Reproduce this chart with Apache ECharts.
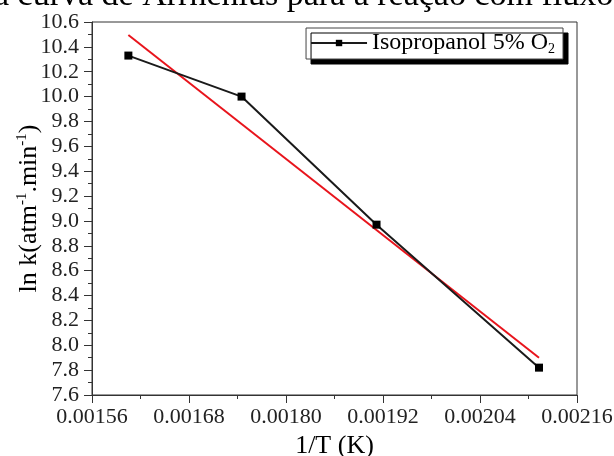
<!DOCTYPE html>
<html>
<head>
<meta charset="utf-8">
<script src="https://cdn.jsdelivr.net/npm/echarts@6/dist/echarts.min.js"></script>
<style>
  html, body { margin: 0; padding: 0; background: #fff; }
  #chart { width: 614px; height: 456px; }
</style>
</head>
<body>
<div id="chart"></div>
<script>
const invT = [0.001605, 0.001745, 0.001912, 0.002113];
const lnK = [10.33, 10.00, 8.97, 7.82];
// reta de ajuste (pontos extremos)
const fitX = [0.001605, 0.002113];
const fitY = [10.495, 7.90];

const serif = "'Times New Roman', 'Liberation Serif', serif";

const chart = echarts.init(document.getElementById('chart'));

const option = {
    animation: false,
    textStyle: {fontFamily: serif},
    graphic: [{
        type: 'text',
        x: -6,
        y: -21,
        style: {
            text: 'a curva de Arrhenius para a reação com fluxo de',
            font: '34px ' + serif,
            fill: '#000'
        }
    }],
    grid: {
        left: 92, right: 37, top: 22, bottom: 61,
        outerBoundsMode: 'none',
        containLabel: false,
        show: true, borderColor: '#333', borderWidth: 1
    },
    legend: {
        data: ['Isopropanol 5% O2'],
        right: 51, top: 28,
        padding: [3, 8, 3, 4],
        itemGap: 4,
        backgroundColor: '#fff',
        borderColor: '#444', borderWidth: 1,
        shadowColor: '#000', shadowOffsetX: 5, shadowOffsetY: 5, shadowBlur: 0,
        itemWidth: 56, itemHeight: 8,
        formatter: function () { return 'Isopropanol 5% O{sub|2}'; },
        textStyle: {
            fontFamily: serif, fontSize: 24, color: '#000',
            rich: {sub: {fontFamily: serif, fontSize: 14, verticalAlign: 'bottom', padding: [12, 0, 0, 0]}}
        }
    },
    xAxis: {
        type: 'value',
        min: 0.00156, max: 0.00216, interval: 0.00012,
        name: '1/T (K)', nameLocation: 'middle', nameGap: 38,
        nameMoveOverlap: false,
        nameTextStyle: {fontFamily: serif, fontSize: 26, color: '#000'},
        axisLine: {lineStyle: {color: '#333', width: 1}},
        axisTick: {length: 8, lineStyle: {color: '#333'}},
        minorTick: {show: true, splitNumber: 2, length: 4, lineStyle: {color: '#333'}},
        splitLine: {show: false},
        axisLabel: {
            fontFamily: serif, fontSize: 22, color: '#222', margin: 11,
            formatter: function (v) { return v.toFixed(5); }
        }
    },
    yAxis: {
        type: 'value',
        min: 7.6, max: 10.6, interval: 0.2,
        name: 'ln k(atm{sup|-1}.min{sup|-1})', nameLocation: 'middle', nameGap: 48,
        nameMoveOverlap: false,
        nameTextStyle: {
            fontFamily: serif, fontSize: 26, color: '#000',
            rich: {sup: {fontFamily: serif, fontSize: 15, verticalAlign: 'top', padding: [0, 0, 14, 0]}}
        },
        axisLine: {show: true, lineStyle: {color: '#333', width: 1}},
        axisTick: {show: true, length: 8, lineStyle: {color: '#333'}},
        minorTick: {show: true, splitNumber: 2, length: 4, lineStyle: {color: '#333'}},
        splitLine: {show: false},
        axisLabel: {
            fontFamily: serif, fontSize: 22, color: '#222', margin: 13,
            formatter: function (v) { return v.toFixed(1); }
        }
    },
    series: [{
        name: 'Isopropanol 5% O2',
        type: 'line',
        data: invT.map((x, i) => [x, lnK[i]]),
        symbol: 'rect', symbolSize: 8,
        lineStyle: {color: '#1a1a1a', width: 2},
        itemStyle: {color: '#000'}
    }, {
        name: 'ajuste',
        type: 'line',
        data: fitX.map((x, i) => [x, fitY[i]]),
        showSymbol: false, symbol: 'none',
        lineStyle: {color: '#e8141c', width: 2},
        z: 1
    }]
};

chart.setOption(option);
</script>
</body>
</html>
